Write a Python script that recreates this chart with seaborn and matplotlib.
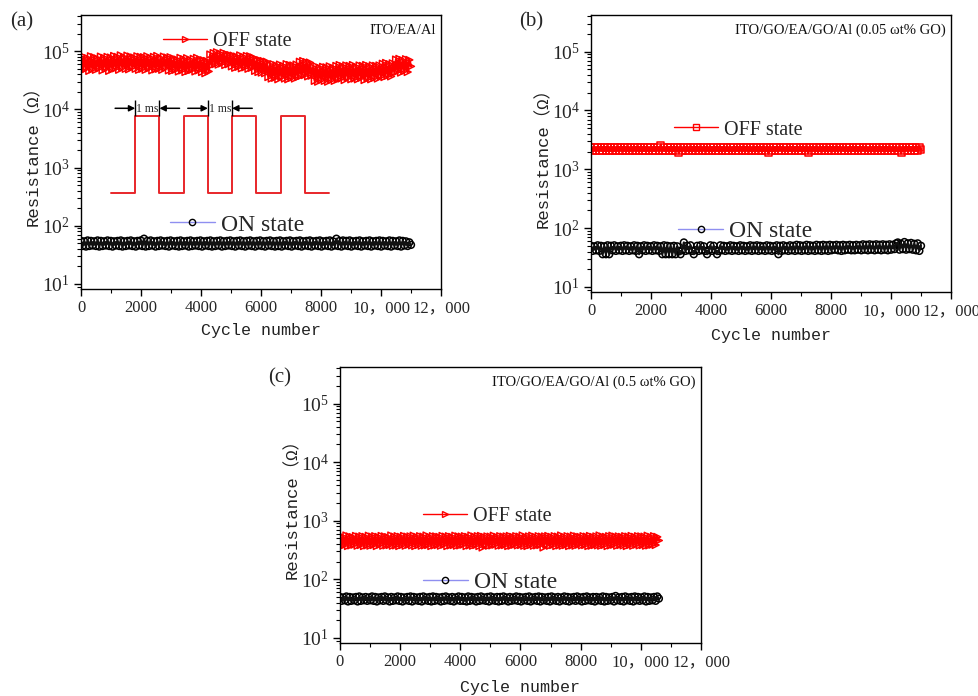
import numpy as np
import pandas as pd
import matplotlib
matplotlib.use("Agg")
import matplotlib.pyplot as plt
import seaborn as sns
from matplotlib.lines import Line2D
from matplotlib.font_manager import FontProperties
from matplotlib.ticker import LogLocator, NullFormatter, FixedLocator, FixedFormatter, MultipleLocator

# ---------------- data ----------------
# Panel (a) ITO/EA/Al: OFF state (kOhm), ON state (Ohm), evenly sampled over cycles 0..11000
off_a_kohm = [78, 47, 80, 50, 76, 46, 82, 49, 79, 48, 75, 51, 81, 47, 77, 50, 80, 46, 78,
              49, 83, 51, 80, 48, 85, 52, 79, 50, 84, 49, 81, 53, 78, 50, 82, 48, 80,
              50, 79, 48, 82, 51, 77, 47, 80, 49, 83, 50, 76, 48, 81, 52, 78, 47, 79,
              46, 75, 48, 72, 45, 77, 47, 73, 44, 76, 46, 71, 48, 74, 45, 77, 47, 72,
              44, 70, 42, 68, 45,
              88, 58, 93, 60, 96, 59, 91, 62, 94, 58, 89, 60, 86,
              55, 84, 52, 81, 54, 85, 51, 80, 53, 83, 50, 82, 52, 78,
              46, 72, 44, 70, 43, 68, 42, 66,
              36, 58, 34, 60, 35, 57, 33, 59, 36, 56, 34, 60, 33, 58, 35, 57, 34, 59, 36,
              66, 38, 68, 39, 65, 37, 64, 38,
              53, 31, 55, 30, 52, 32, 54, 31, 53, 30, 55, 32, 52, 31,
              56, 33, 58, 34, 55, 32, 57, 35, 56, 33, 58, 34, 54, 33, 57, 35, 56, 32, 58, 34,
              55, 33, 57, 35, 56, 34, 57,
              37, 61, 36, 63, 38, 60, 37, 62,
              44, 72, 45, 74, 43, 70, 46, 73, 44, 71, 55]
on_a = [55, 45, 54, 44, 56, 45, 55, 46, 54, 45, 56, 44, 55, 45, 54, 46, 56, 45, 55, 44,
        54, 46, 55, 45, 56, 44, 54, 45, 55, 46, 56, 45, 54, 44, 55, 46, 56, 45, 60, 44,
        55, 45, 56, 46, 54, 44, 55, 45, 56, 46, 54, 45, 55, 44, 56, 46, 54, 45, 55, 44,
        56, 45, 54, 46, 55, 44, 56, 45, 54, 46, 55, 45, 56, 44, 54, 46, 55, 45, 56, 44,
        54, 45, 55, 46, 56, 44, 54, 45, 55, 46, 56, 45, 54, 44, 55, 46, 56, 45, 54, 44,
        55, 46, 56, 45, 54, 44, 55, 46, 56, 45, 54, 44, 55, 46, 56, 45, 54, 44, 55, 45,
        56, 44, 54, 46, 55, 45, 56, 44, 54, 46, 55, 45, 56, 44, 54, 46, 55, 45, 56, 44,
        54, 46, 55, 45, 56, 44, 54, 46, 55, 45, 56, 44, 54, 46, 60, 45, 55, 44, 56, 46,
        55, 45, 56, 44, 54, 46, 55, 45, 56, 44, 54, 46, 55, 45, 56, 44, 54, 46, 55, 45,
        56, 44, 55, 46, 54, 45, 56, 44, 55, 46, 54, 45, 56, 44, 55, 46, 54, 45, 52, 47]
last_cycle_a = 11000

# Panel (b) ITO/GO/EA/GO/Al (0.05 wt% GO), Ohm
off_b = [2360, 2070, 2340, 2050, 2390, 2090, 2350, 2060, 2370, 2080, 2330, 2070, 2380, 2050, 2350, 2090, 2340, 2060, 2400, 2070,
         2350, 2080, 2370, 2050, 2340, 2090, 2390, 2070, 2360, 2060, 2330, 2080, 2380, 2070, 2360, 2050, 2340, 2090, 2370, 2060,
         2360, 2070, 2550, 2050, 2350, 2090, 2380, 2060, 2340, 2080, 2370, 2070, 2360, 1900, 2390, 2090, 2340, 2050, 2360, 2070,
         2380, 2060, 2350, 2080, 2370, 2070, 2340, 2090, 2390, 2050, 2360, 2070, 2330, 2080, 2380, 2060, 2360, 2070, 2350, 2090,
         2340, 2070, 2370, 2050, 2360, 2090, 2380, 2060, 2350, 2080, 2330, 2070, 2390, 2060, 2360, 2080, 2340, 2050, 2370, 2070,
         2360, 2090, 2340, 2060, 2380, 2070, 2360, 1900, 2350, 2080, 2370, 2060, 2340, 2070, 2390, 2090, 2360, 2050, 2330, 2070,
         2370, 2060, 2350, 2080, 2380, 2070, 2340, 2090, 2360, 2060, 2350, 1920, 2390, 2070, 2340, 2080, 2370, 2050, 2350, 2090,
         2380, 2070, 2360, 2060, 2330, 2080, 2370, 2090, 2350, 2060, 2390, 2070, 2360, 2050, 2340, 2080, 2380, 2070, 2360, 2060,
         2350, 2090, 2370, 2060, 2400, 2070, 2360, 2050, 2340, 2080, 2380, 2070, 2360, 2060, 2350, 2090, 2370, 2070, 2330, 2060,
         2360, 2070, 2380, 2050, 2350, 2090, 2370, 1910, 2340, 2070, 2360, 2060, 2390, 2080, 2350, 2070, 2360, 2060, 2340, 2200]
on_b = [50, 41, 49, 42, 51, 41, 50, 36, 49, 36, 51, 36, 50, 42, 51, 41, 49, 42, 50, 41,
        51, 42, 50, 41, 49, 42, 51, 41, 50, 36, 49, 42, 51, 41, 50, 42, 49, 41, 51, 42,
        50, 41, 49, 36, 51, 36, 50, 36, 49, 36, 50, 36, 49, 41, 36, 42, 57, 41, 50, 42,
        51, 41, 36, 42, 50, 41, 51, 42, 49, 41, 36, 42, 51, 41, 50, 42, 36, 41, 51, 42,
        50, 41, 49, 42, 51, 41, 50, 42, 49, 41, 51, 42, 50, 41, 49, 42, 51, 41, 50, 42,
        51, 41, 50, 42, 49, 41, 51, 42, 50, 41, 49, 42, 51, 36, 50, 41, 51, 42, 49, 41,
        51, 42, 50, 41, 52, 42, 51, 41, 50, 42, 52, 41, 51, 42, 50, 41, 52, 42, 51, 41,
        52, 42, 51, 41, 52, 42, 51, 43, 52, 42, 51, 41, 52, 42, 51, 43, 52, 42, 51, 42,
        52, 43, 51, 42, 53, 43, 52, 42, 53, 43, 52, 42, 53, 43, 52, 42, 53, 43, 52, 42,
        53, 43, 52, 44, 55, 57, 43, 54, 44, 58, 43, 55, 44, 56, 43, 54, 42, 55, 41, 50]
last_cycle_b = 11000

# Panel (c) ITO/GO/EA/GO/Al (0.5 wt% GO), Ohm
off_c = [545, 375, 530, 385, 560, 370, 540, 380, 525, 390, 550, 375, 535, 385, 545, 370, 530, 380, 555, 375,
         535, 385, 545, 370, 530, 390, 550, 375, 540, 380, 525, 385, 560, 375, 535, 380, 545, 370, 530, 385,
         550, 375, 535, 390, 540, 380, 555, 370, 530, 385, 545, 375, 535, 380, 560, 385, 530, 370, 545, 380,
         540, 385, 530, 375, 550, 390, 535, 370, 545, 380, 530, 385, 555, 375, 540, 380, 535, 390, 545, 370,
         530, 380, 560, 375, 535, 385, 545, 370, 550, 350, 530, 385, 540, 375, 535, 380, 555, 390, 530, 375,
         545, 380, 535, 385, 540, 370, 550, 375, 530, 390, 545, 380, 535, 385, 560, 375, 530, 370, 540, 385,
         555, 375, 530, 380, 545, 385, 535, 350, 540, 390, 550, 375, 530, 385, 545, 370, 535, 380, 560, 375,
         530, 385, 545, 370, 535, 380, 555, 375, 540, 390, 530, 380, 545, 385, 535, 370, 550, 375, 530, 385,
         540, 380, 560, 375, 535, 385, 530, 370, 545, 380, 555, 390, 535, 375, 540, 385, 530, 380, 545, 370,
         535, 385, 550, 375, 530, 390, 545, 380, 540, 385, 535, 375, 555, 380, 530, 390, 545, 385, 530, 460]
on_c = [50, 43, 49, 44, 51, 42, 50, 43, 49, 44, 50, 42, 51, 43, 49, 44, 50, 43, 49, 44,
        51, 43, 50, 42, 49, 44, 50, 43, 51, 44, 49, 42, 50, 43, 49, 44, 51, 43, 50, 42,
        49, 44, 50, 43, 51, 42, 50, 44, 49, 43, 50, 42, 51, 44, 49, 43, 50, 42, 51, 43,
        50, 44, 49, 42, 50, 43, 51, 44, 49, 43, 50, 42, 49, 44, 51, 43, 50, 43, 49, 42,
        51, 43, 50, 44, 49, 42, 50, 43, 51, 44, 49, 43, 50, 42, 51, 44, 49, 43, 50, 42,
        50, 43, 51, 44, 49, 42, 50, 43, 49, 44, 51, 43, 50, 42, 49, 44, 50, 43, 51, 42,
        49, 44, 50, 43, 51, 42, 50, 44, 49, 43, 50, 42, 51, 44, 49, 43, 50, 42, 49, 44,
        51, 43, 50, 42, 49, 44, 50, 43, 51, 44, 49, 42, 50, 43, 51, 44, 49, 43, 50, 42,
        50, 44, 49, 43, 51, 42, 50, 43, 49, 44, 50, 42, 52, 44, 49, 43, 50, 42, 51, 44,
        49, 43, 50, 42, 51, 44, 50, 43, 49, 44, 51, 42, 50, 43, 49, 44, 50, 43, 51, 47]
last_cycle_c = 10600

# Inset pulse train (time in ms, normalized level)
pulse_t = [-1, 0, 1, 2, 3, 4, 5, 6, 7, 8]
pulse_level = [0, 1, 0, 1, 0, 1, 0, 1, 0, 0]

x_ticks = [0, 2000, 4000, 6000, 8000, 10000, 12000]
x_tick_labels = ["0", "2000", "4000", "6000", "8000", "10\uff0c000", "12\uff0c000"]
y_ticks = [1e1, 1e2, 1e3, 1e4, 1e5]
y_tick_labels = [r"$10^{1}$", r"$10^{2}$", r"$10^{3}$", r"$10^{4}$", r"$10^{5}$"]

panel_letters = ["(a)", "(b)", "(c)"]
devices = ["ITO/EA/Al", "ITO/GO/EA/GO/Al (0.05 \u03c9t% GO)", "ITO/GO/EA/GO/Al (0.5 \u03c9t% GO)"]

# ---------------- style ----------------
sns.set_theme(style="ticks")
plt.rcParams["font.family"] = ["Liberation Serif", "Noto Sans CJK SC"]
plt.rcParams["mathtext.fontset"] = "custom"
plt.rcParams["mathtext.rm"] = "Liberation Serif"
plt.rcParams["mathtext.it"] = "Liberation Serif:italic"
plt.rcParams["axes.linewidth"] = 1.0

W, H = 979, 696
fig = plt.figure(figsize=(W / 100, H / 100), dpi=100)


def px_axes(left, top, right, bottom):
    return fig.add_axes([left / W, 1 - bottom / H, (right - left) / W, (bottom - top) / H])


ax_a = px_axes(81, 15, 441, 289)
ax_b = px_axes(591, 15, 951, 292)
ax_c = px_axes(340, 367, 701, 643)

RED = "#ff0000"
LAV = "#8f8ff0"
serif = "Liberation Serif"
mono_cjk = ["Liberation Mono", "Noto Sans CJK SC"]


def draw_panel(ax, off_vals, on_vals, last_cycle, off_marker, device,
               off_leg_pos, on_leg_pos, xlabel_y):
    cyc_off = np.linspace(0, last_cycle, len(off_vals))
    cyc_on = np.linspace(0, last_cycle, len(on_vals))
    df_off = pd.DataFrame({"cycle": cyc_off, "R": off_vals})
    df_on = pd.DataFrame({"cycle": cyc_on, "R": on_vals})
    # connecting lines (dense, so they merge into a band)
    sns.lineplot(data=df_off, x="cycle", y="R", ax=ax, color=RED, linewidth=1.8,
                 estimator=None, sort=False, legend=False)
    sns.lineplot(data=df_on, x="cycle", y="R", ax=ax, color="#111111", linewidth=1.6,
                 estimator=None, sort=False, legend=False)
    # open markers
    sns.scatterplot(data=df_off, x="cycle", y="R", ax=ax, marker=off_marker, s=24,
                    facecolor="none", edgecolor=RED, linewidth=1.1, legend=False)
    sns.scatterplot(data=df_on, x="cycle", y="R", ax=ax, marker="o", s=24,
                    facecolor="none", edgecolor="black", linewidth=1.1, legend=False)
    ax.set_yscale("log")
    ax.set_ylim(8.2, 4.2e5)
    ax.set_xlim(0, 12000)
    ax.yaxis.set_major_locator(FixedLocator(y_ticks))
    ax.yaxis.set_major_formatter(FixedFormatter(y_tick_labels))
    ax.yaxis.set_minor_locator(LogLocator(base=10, subs=np.arange(2, 10)))
    ax.yaxis.set_minor_formatter(NullFormatter())
    ax.xaxis.set_major_locator(FixedLocator(x_ticks))
    ax.xaxis.set_major_formatter(FixedFormatter(x_tick_labels))
    ax.xaxis.set_minor_locator(MultipleLocator(1000))
    ax.tick_params(axis="both", which="major", direction="out", length=5, width=1,
                   top=False, right=False, color="black", pad=3)
    ax.tick_params(axis="both", which="minor", direction="out", length=3, width=0.8,
                   top=False, right=False, color="black")
    for lab in ax.get_yticklabels():
        lab.set_fontsize(14)
    for lab in ax.get_xticklabels():
        lab.set_fontsize(12)
    for sp in ax.spines.values():
        sp.set_color("black")
        sp.set_linewidth(1.0)
    ax.set_xlabel("Cycle number", family=mono_cjk, fontsize=12, color="#222222")
    ax.set_ylabel("Resistance\uff08\u03a9\uff09", family=mono_cjk, fontsize=12.5, color="#222222")
    ax.xaxis.set_label_coords(0.5, xlabel_y)
    ax.yaxis.set_label_coords(-0.11, 0.5)
    ax.text(0.985, 0.945, device, transform=ax.transAxes, ha="right", va="center",
            family=serif, fontsize=10.5, color="#111111")

    h_off = Line2D([], [], color=RED, lw=1, marker=off_marker, ms=4.5,
                   mfc="none", mec=RED, mew=1)
    h_on = Line2D([], [], color=LAV, lw=1, marker="o", ms=4.5,
                  mfc="none", mec="black", mew=1)
    leg1 = ax.legend(handles=[h_off], labels=["OFF state"], loc="center left",
                     bbox_to_anchor=off_leg_pos, frameon=False, borderpad=0,
                     borderaxespad=0, handlelength=2.2, handletextpad=0.3,
                     prop=FontProperties(family=serif, size=14.5))
    ax.add_artist(leg1)
    ax.legend(handles=[h_on], labels=["ON state"], loc="center left",
              bbox_to_anchor=on_leg_pos, frameon=False, borderpad=0,
              borderaxespad=0, handlelength=1.9, handletextpad=0.25,
              prop=FontProperties(family=serif, size=17))


draw_panel(ax_a, np.array(off_a_kohm) * 1000, on_a, last_cycle_a, ">", devices[0],
           (0.228, 0.905), (0.247, 0.234), -0.125)
draw_panel(ax_b, off_b, on_b, last_cycle_b, "s", devices[1],
           (0.23, 0.585), (0.242, 0.22), -0.13)
draw_panel(ax_c, off_c, on_c, last_cycle_c, ">", devices[2],
           (0.23, 0.457), (0.23, 0.221), -0.134)

# panel letters
fig.text(10 / W, 1 - 22 / H, panel_letters[0], family=serif, fontsize=15, va="center", ha="left")
fig.text(519 / W, 1 - 22 / H, panel_letters[1], family=serif, fontsize=15, va="center", ha="left")
fig.text(268 / W, 1 - 378 / H, panel_letters[2], family=serif, fontsize=15, va="center", ha="left")

# inset pulse diagram in panel (a)
ins = px_axes(111, 116, 329, 193)
ins.set_xlim(-1, 8)
ins.set_ylim(0, 1)
ins.axis("off")
ins.patch.set_alpha(0)
sns.lineplot(x=pulse_t, y=pulse_level, ax=ins, color="#e8262a", lw=1.4,
             drawstyle="steps-post", estimator=None, sort=False, legend=False)
for ln in ins.get_lines():
    ln.set_clip_on(False)
ins.vlines([0, 1, 3, 4], 1, 1.21, color="black", lw=1, clip_on=False)
arrow_kw = dict(arrowstyle="-|>", color="black", lw=1.1, mutation_scale=9, shrinkA=0, shrinkB=0)
for start, end in [(-0.83, 0), (1.83, 1), (2.17, 3), (4.83, 4)]:
    ins.annotate("", xy=(end, 1.1), xytext=(start, 1.1), arrowprops=arrow_kw,
                 annotation_clip=False)
for mid in [0.5, 3.5]:
    ins.text(mid, 1.09, "1 ms", ha="center", va="center", family=serif, fontsize=8.5,
             clip_on=False)

fig.savefig("out.png", dpi=100)
